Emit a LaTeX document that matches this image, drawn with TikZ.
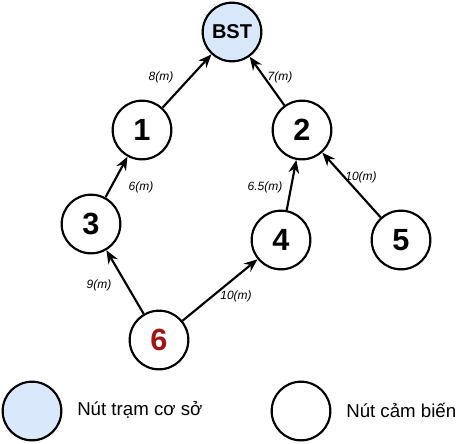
\documentclass[tikz,border=0pt]{standalone}
\usepackage{fontspec}
\setmainfont{Liberation Sans}
\usetikzlibrary{arrows.meta, positioning}
\definecolor{base_blue}{RGB}{218, 232, 252}
\definecolor{dark_red}{RGB}{160, 20, 20}

\begin{document}
\begin{tikzpicture}[
    x=0.75pt, y=-0.75pt,
    sensor/.style={
        circle,
        draw=black,
        line width=1.6pt,
        fill=#1,
        minimum size=44pt,
        inner sep=0pt,
        font=\fontsize{23}{26}\selectfont\bfseries
    },
    sensor/.default=white,
    station/.style={
        sensor=base_blue,
        font=\fontsize{15}{18}\selectfont\bfseries
    },
    weight/.style={
        inner sep=0pt,
        font=\fontsize{9}{11}\selectfont\itshape
    },
    legend/.style={
        anchor=west,
        inner sep=0pt,
        font=\fontsize{14}{17}\selectfont
    },
    arrow/.style={
        -{Stealth[length=10pt, width=8pt]},
        line width=1.6pt
    }
]
\useasboundingbox (0,0) rectangle (474,443);

% Base station
\node[station] (bst) at (232,32) {BST};

% Sensor nodes
\node[sensor] (n1) at (142,130) {1};
\node[sensor] (n2) at (302,130) {2};
\node[sensor] (n3) at (91,224) {3};
\node[sensor] (n4) at (281,240) {4};
\node[sensor] (n5) at (401,240) {5};
\node[sensor, text=dark_red] (n6) at (159,340) {6};

% Links to parents
\draw[arrow] (n1) -- (bst);
\draw[arrow] (n2) -- (bst);
\draw[arrow] (n3) -- (n1);
\draw[arrow] (n4) -- (n2);
\draw[arrow] (n5) -- (n2);
\draw[arrow] (n6) -- (n3);
\draw[arrow] (n6) -- (n4);

% Distances
\node[weight] (w1) at (161,77) {8(m)};
\node[weight] (w2) at (280,77) {7(m)};
\node[weight] (w3) at (141,187) {6(m)};
\node[weight] (w4) at (265,187) {6.5(m)};
\node[weight] (w5) at (361,177) {10(m)};
\node[weight] (w6) at (99,285) {9(m)};
\node[weight] (w7) at (236,296) {10(m)};

% Legend
\node[sensor=base_blue] (key_bst) at (32,411) {};
\node[legend] (key_bst_text) at (77,410) {Nút trạm cơ sở};
\node[sensor] (key_node) at (301,411) {};
\node[legend] (key_node_text) at (346,410) {Nút cảm biến};

\end{tikzpicture}
\end{document}
